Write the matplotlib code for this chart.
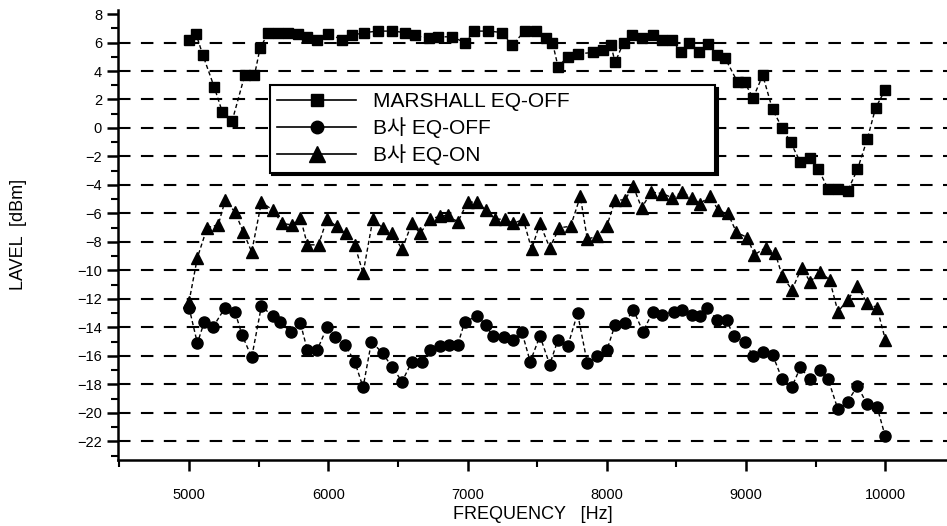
import matplotlib
matplotlib.use('Agg')
import matplotlib.pyplot as plt
from matplotlib.lines import Line2D
from matplotlib.ticker import MultipleLocator

plt.rcParams['font.family'] = ['Liberation Sans', 'Noto Sans CJK KR', 'DejaVu Sans']

# MARSHALL EQ-OFF
marshall_f = [5000, 5050, 5100, 5180, 5240, 5310, 5400, 5470, 5510, 5570,
              5640, 5710, 5780, 5850, 5920, 6000, 6100, 6170, 6260, 6360,
              6460, 6550, 6620, 6720, 6790, 6890, 6980, 7050, 7150, 7250,
              7320, 7410, 7490, 7560, 7610, 7650, 7720, 7790, 7900, 7970,
              8030, 8060, 8120, 8180, 8250, 8330, 8400, 8470, 8530, 8590,
              8660, 8730, 8790, 8850, 8940, 8990, 9050, 9120, 9190, 9260,
              9320, 9390, 9460, 9520, 9590, 9660, 9730, 9800, 9870, 9930,
              10000]
marshall_v = [6.2, 6.6, 5.1, 2.9, 1.1, 0.5, 3.7, 3.7, 5.6, 6.7,
              6.7, 6.7, 6.6, 6.4, 6.2, 6.6, 6.2, 6.5, 6.7, 6.8,
              6.8, 6.7, 6.5, 6.3, 6.4, 6.4, 6.0, 6.8, 6.8, 6.7,
              5.8, 6.8, 6.8, 6.3, 6.0, 4.3, 5.0, 5.2, 5.3, 5.5,
              5.8, 4.6, 6.0, 6.5, 6.3, 6.5, 6.2, 6.2, 5.3, 6.0,
              5.3, 5.9, 5.1, 4.9, 3.2, 3.2, 2.1, 3.7, 1.3, 0.0,
              -1.0, -2.4, -2.1, -2.9, -4.3, -4.3, -4.4, -2.9, -0.8, 1.4,
              2.7]

# B사 EQ-OFF
boff_f = [5000, 5060, 5110, 5170, 5260, 5330, 5380, 5450, 5520, 5600,
          5650, 5730, 5800, 5850, 5920, 5990, 6050, 6120, 6190, 6250,
          6310, 6390, 6460, 6530, 6600, 6670, 6730, 6800, 6870, 6930,
          6980, 7070, 7130, 7180, 7260, 7330, 7390, 7450, 7520, 7590,
          7650, 7720, 7790, 7860, 7930, 8000, 8060, 8130, 8190, 8260,
          8330, 8400, 8480, 8540, 8610, 8670, 8720, 8790, 8860, 8910,
          8990, 9050, 9120, 9190, 9260, 9330, 9390, 9460, 9530, 9590,
          9660, 9730, 9800, 9870, 9940, 10000]
boff_v = [-12.6, -15.1, -13.6, -14.0, -12.6, -12.9, -14.5, -16.1, -12.5, -13.2,
          -13.6, -14.3, -13.7, -15.6, -15.6, -14.0, -14.7, -15.2, -16.4, -18.2,
          -15.0, -15.8, -16.8, -17.8, -16.4, -16.4, -15.6, -15.3, -15.2, -15.2,
          -13.6, -13.2, -13.8, -14.6, -14.7, -14.85, -14.3, -16.4, -14.6, -16.6,
          -14.85, -15.3, -13.0, -16.5, -16.0, -15.6, -13.8, -13.7, -12.75, -14.3,
          -12.9, -13.1, -12.9, -12.75, -13.1, -13.2, -12.6, -13.45, -13.45, -14.6,
          -15.0, -16.0, -15.7, -15.9, -17.65, -18.15, -16.8, -17.65, -16.95, -17.65,
          -19.75, -19.2, -18.1, -19.4, -19.55, -21.65]

# B사 EQ-ON
bon_f = [5000, 5060, 5130, 5210, 5260, 5330, 5390, 5450, 5520, 5600,
         5670, 5740, 5800, 5850, 5930, 5990, 6060, 6130, 6190, 6250,
         6320, 6390, 6460, 6530, 6600, 6660, 6730, 6800, 6860, 6930,
         7000, 7070, 7130, 7200, 7270, 7330, 7400, 7460, 7520, 7590,
         7660, 7740, 7810, 7860, 7930, 8000, 8060, 8130, 8190, 8250,
         8320, 8400, 8470, 8540, 8610, 8670, 8740, 8800, 8870, 8930,
         9010, 9060, 9140, 9210, 9260, 9330, 9400, 9460, 9530, 9600,
         9660, 9730, 9800, 9870, 9940, 10000]
bon_v = [-12.2, -9.1, -7.0, -6.8, -5.05, -5.9, -7.3, -8.7, -5.2, -5.75,
         -6.7, -6.8, -6.3, -8.2, -8.2, -6.4, -6.9, -7.4, -8.2, -10.2,
         -6.4, -7.0, -7.4, -8.5, -6.7, -7.4, -6.4, -6.2, -6.1, -6.6,
         -5.2, -5.2, -5.75, -6.4, -6.4, -6.7, -6.4, -8.5, -6.7, -8.4,
         -7.0, -6.9, -4.8, -7.8, -7.6, -6.9, -5.05, -5.05, -4.1, -5.6,
         -4.5, -4.6, -4.9, -4.5, -4.9, -5.3, -4.8, -5.75, -6.0, -7.3,
         -7.7, -8.9, -8.4, -8.8, -10.4, -11.35, -9.8, -10.8, -10.1, -10.65,
         -12.9, -12.05, -11.1, -12.3, -12.6, -14.85]

labels = ['MARSHALL EQ-OFF', 'B사 EQ-OFF', 'B사 EQ-ON']

fig = plt.figure(figsize=(9.47, 5.26), dpi=100)
ax = fig.add_axes([0.1246, 0.1255, 0.8754, 0.856])

line_kw = dict(color='black', lw=1.0, ls=(0, (3, 2)))
ax.plot(marshall_f, marshall_v, marker='s', markersize=7.5, **line_kw)
ax.plot(boff_f, boff_v, marker='o', markersize=8, **line_kw)
ax.plot(bon_f, bon_v, marker='^', markersize=9, **line_kw)

ax.set_xlim(4490, 10443)
ax.set_ylim(-23.3, 8.3)
ax.xaxis.set_minor_locator(MultipleLocator(500))
ax.yaxis.set_major_locator(MultipleLocator(2))
ax.yaxis.set_minor_locator(MultipleLocator(1))
ax.set_xticks(range(5000, 10001, 1000))

for v in range(-22, 7, 2):
    ax.axhline(v, color='black', lw=1.5, ls=(0, (6, 5)), zorder=0)

for s in ['top', 'right']:
    ax.spines[s].set_visible(False)
ax.spines['left'].set_linewidth(1.8)
ax.spines['bottom'].set_linewidth(1.8)
ax.tick_params(which='major', direction='out', length=8, width=1.8, labelsize=10.5)
ax.tick_params(which='minor', direction='out', length=5, width=1.5)
ax.tick_params(axis='x', pad=12)

ax.set_xlabel('FREQUENCY   [Hz]', fontsize=13, labelpad=3)
ax.set_ylabel('LAVEL  [dBm]', fontsize=13, labelpad=36)

handles = [Line2D([], [], color='black', lw=1.2, marker=m, markersize=ms)
           for m, ms in zip(['s', 'o', '^'], [9, 9, 11])]
leg = ax.legend(handles, labels, loc='upper left', fontsize=15,
                bbox_to_anchor=(0.183, 0.633, 0.537, 0.2), mode='expand',
                borderaxespad=0, frameon=True, fancybox=False,
                shadow={'color': 'black', 'alpha': 1},
                handlelength=3.8, labelspacing=0.3, borderpad=0.35,
                edgecolor='black')
leg.get_frame().set_linewidth(1.5)

fig.savefig('out.png', dpi=100)
